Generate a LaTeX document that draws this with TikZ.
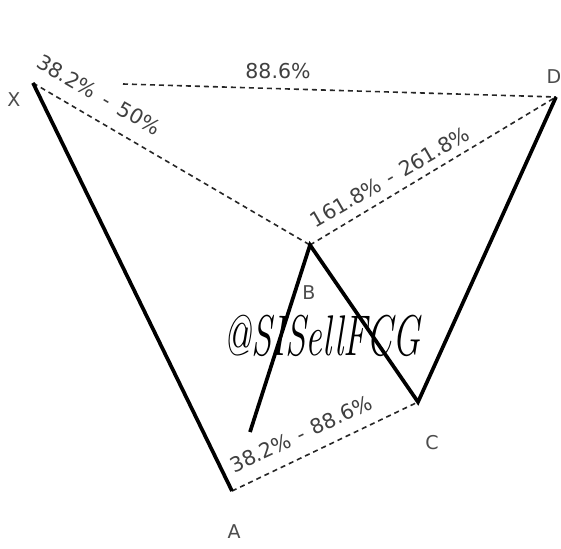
\documentclass[tikz,border=0pt]{standalone}
\usepackage{fontspec}
\usepackage{graphicx}
\newfontfamily\labfont{DejaVu Sans}
\begin{document}
\begin{tikzpicture}[x=1pt,y=1pt,
  leg/.style={line width=3.7pt, line join=miter},
  fib/.style={dash pattern=on 5pt off 4pt, line width=1.6pt, black!85},
  lbl/.style={font=\labfont\fontsize{20.5}{20.5}\selectfont, text=black!75, inner sep=0pt},
  ptlbl/.style={font=\labfont\fontsize{19}{19}\selectfont, text=black!70, inner sep=0pt}]
\useasboundingbox (0,0) rectangle (561,-548);
\fill[white] (0,0) rectangle (561,-548);
% points
\coordinate (X) at (33,-83);
\coordinate (A) at (232,-491);
\coordinate (B) at (310,-245);
\coordinate (C) at (418,-402);
\coordinate (D) at (556,-97);
\coordinate (ab) at (250,-432);
\coordinate (xd) at (123,-84);
% fib lines
\draw[fib] (X) -- (B);
\draw[fib] (xd) -- (D);
\draw[fib] (B) -- (D);
\draw[fib] (A) -- (C);
% legs
\draw[leg] (X) -- (A);
\draw[leg] (ab) -- (B) -- (C) -- (D);
% point labels
\node[ptlbl] (lX) at (14,-100) {X};
\node[ptlbl] (lA) at (234,-532) {A};
\node[ptlbl] (lB) at (309,-293) {B};
\node[ptlbl] (lC) at (432,-443) {C};
\node[ptlbl] (lD) at (554,-77) {D};
% ratio labels
\node[lbl, rotate=-30] (r1) at (99,-95) {38.2\%\hspace{0.5em}-\hspace{0.5em}50\%};
\node[lbl] (r2) at (278,-71) {88.6\%};
\node[lbl, rotate=30] (r3) at (390,-177) {161.8\%\hspace{0.4em}-\hspace{0.4em}261.8\%};
\node[lbl, rotate=25] (r4) at (301,-434) {38.2\%\hspace{0.4em}-\hspace{0.4em}88.6\%};
% watermark
\node[inner sep=0pt] (wm) at (322,-336) {\scalebox{1}[1.55]{\fontsize{37}{37}\selectfont\itshape @SISellFCG}};
\end{tikzpicture}
\end{document}
